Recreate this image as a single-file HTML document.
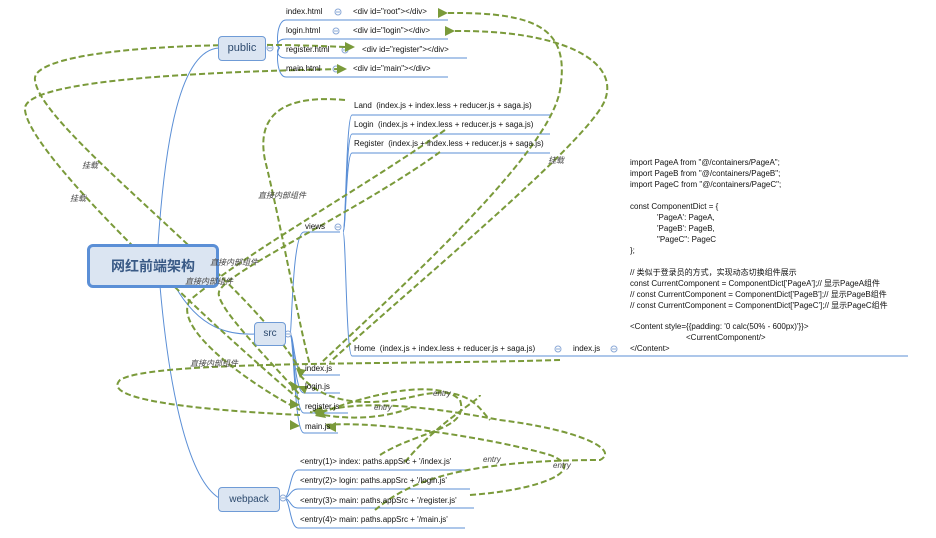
<!DOCTYPE html>
<html><head><meta charset="utf-8"><style>
body{margin:0;width:936px;height:538px;background:#fff;position:relative;overflow:hidden;font-family:"Liberation Sans","Noto Sans CJK SC",sans-serif;}
.t{position:absolute;font-size:8px;color:#111;white-space:nowrap;line-height:10px}
.box{position:absolute;background:#dbe5f2;border:1px solid #6f9bd6;border-radius:4px;color:#2d4a6e;text-align:center;}
svg{position:absolute;left:0;top:0}
.lbl{position:absolute;font-size:8px;font-style:italic;color:#444;white-space:nowrap}
</style></head><body>
<svg width="936" height="538">
<g fill="none" stroke="#5b8fd6" stroke-width="1">
<path d="M158 245 C165 140 180 50 219 48"/>
<path d="M175 286 C200 330 230 335 255 334"/>
<path d="M160 286 C170 400 190 480 219 498"/>
<path d="M280 48 C276 48 276 20 286 20 L448 20"/>
<path d="M280 48 C276 48 276 39 286 39 L448 39"/>
<path d="M280 48 C276 48 276 58 286 58 L467 58"/>
<path d="M280 48 C276 48 276 77 286 77 L448 77"/>
<path d="M290 334 C292 334 292 232 304 232 L340 232"/>
<path d="M290 334 C294 334 294 375 304 375 L340 375"/>
<path d="M290 334 C294 334 294 393 304 393 L340 393"/>
<path d="M290 334 C294 334 294 413 304 413 L348 413"/>
<path d="M290 334 C294 334 294 433 304 433 L338 433"/>
<path d="M343 232 C346 232 346 115 352 115 L550 115"/>
<path d="M343 232 C346 232 346 134 352 134 L550 134"/>
<path d="M343 232 C346 232 346 153 352 153 L550 153"/>
<path d="M343 232 C346 232 346 356 352 356 L908 356"/>
<path d="M284 498 C290 498 290 470 298 470 L468 470"/>
<path d="M284 498 C290 498 290 489 298 489 L470 489"/>
<path d="M284 498 C290 498 290 508 298 508 L474 508"/>
<path d="M284 498 C290 498 290 528 298 528 L465 528"/>
</g>
<g fill="#fff" stroke="#8aa8d6" stroke-width="1">
<circle cx="338" cy="12" r="3"/><circle cx="336" cy="31" r="3"/><circle cx="345" cy="50" r="3"/><circle cx="336" cy="69" r="3"/>
<circle cx="270" cy="48" r="3"/><circle cx="288" cy="334" r="3"/><circle cx="338" cy="227" r="3"/><circle cx="283" cy="498" r="3"/>
<circle cx="558" cy="349" r="3"/><circle cx="614" cy="349" r="3"/>
</g>
<g stroke="#8aa8d6" stroke-width="1">
<path d="M336 12h4M334 31h4M343 50h4M334 69h4M268 48h4M286 334h4M336 227h4M281 498h4M556 349h4M612 349h4"/>
</g>
<g fill="none" stroke="#7a9a3a" stroke-width="2" stroke-dasharray="6,3">
<path d="M345 47 C200 40 30 50 35 80 C40 130 250 280 300 370"/>
<path d="M340 69 C200 72 20 80 25 110 C30 160 240 350 300 400"/>
<path d="M448 13 C540 12 570 30 560 90 C550 150 420 270 322 362"/>
<path d="M455 31 C560 30 620 60 605 100 C590 140 420 280 330 362"/>
<path d="M345 100 C290 95 255 110 265 160 C280 220 300 330 310 365"/>
<path d="M445 130 C360 190 250 250 190 300 C170 330 260 390 300 410"/>
<path d="M440 152 C360 210 230 270 220 290 C210 300 260 350 300 395"/>
<path d="M560 360 C400 365 150 360 120 380 C100 400 200 410 300 415"/>
<path d="M300 375 C320 400 360 410 420 395 C470 385 480 410 490 420"/>
<path d="M410 408 C380 420 340 420 310 412"/>
<path d="M380 455 C420 430 470 430 460 400 C440 380 380 390 320 413"/>
<path d="M405 462 C440 420 480 400 480 395"/>
<path d="M470 495 C540 490 590 470 550 455 C500 440 380 420 325 425"/>
<path d="M375 510 C400 490 440 460 600 460 C620 450 580 430 500 420 C420 405 360 400 320 412"/>
</g>
<g fill="#7a9a3a">
<polygon points="448,13 438,8 438,18"/>
<polygon points="455,31 445,26 445,36"/>
<polygon points="355,47 345,42 345,52"/>
<polygon points="347,69 337,64 337,74"/>
<polygon points="300,378 296,368 306,370"/>
<polygon points="305,394 298,386 308,386"/>
<polygon points="300,387 290,381 292,391"/>
<polygon points="300,405 290,399 290,409"/>
<polygon points="300,426 290,420 290,430"/>
<polygon points="312,411 322,406 322,416"/>
<polygon points="326,427 336,422 336,432"/>
<polygon points="315,416 322,408 326,418"/>
</g>
</svg>
<div class="box" style="left:87px;top:244px;width:126px;height:38px;border:3px solid #5b8fd6;border-radius:6px;font-size:14px;font-weight:bold;line-height:38px;color:#3a5a86">网红前端架构</div>
<div class="box" style="left:218px;top:36px;width:46px;height:23px;font-size:11px;line-height:23px">public</div>
<div class="box" style="left:254px;top:322px;width:30px;height:22px;font-size:10px;line-height:22px">src</div>
<div class="box" style="left:218px;top:487px;width:60px;height:23px;font-size:10px;line-height:23px">webpack</div>
<div class="t" style="left:286px;top:7px">index.html</div>
<div class="t" style="left:286px;top:26px">login.html</div>
<div class="t" style="left:286px;top:45px">register.html</div>
<div class="t" style="left:286px;top:64px">main.html</div>
<div class="t" style="left:353px;top:7px">&lt;div id="root"&gt;&lt;/div&gt;</div>
<div class="t" style="left:353px;top:26px">&lt;div id="login"&gt;&lt;/div&gt;</div>
<div class="t" style="left:362px;top:45px">&lt;div id="register"&gt;&lt;/div&gt;</div>
<div class="t" style="left:353px;top:64px">&lt;div id="main"&gt;&lt;/div&gt;</div>
<div class="t" style="left:354px;top:101px">Land &nbsp;(index.js + index.less + reducer.js + saga.js)</div>
<div class="t" style="left:354px;top:120px">Login &nbsp;(index.js + index.less + reducer.js + saga.js)</div>
<div class="t" style="left:354px;top:139px">Register &nbsp;(index.js + index.less + reducer.js + saga.js)</div>
<div class="t" style="left:305px;top:222px">views</div>
<div class="t" style="left:354px;top:344px">Home &nbsp;(index.js + index.less + reducer.js + saga.js)</div>
<div class="t" style="left:573px;top:344px">index.js</div>
<div class="t" style="left:305px;top:364px">index.js</div>
<div class="t" style="left:305px;top:382px">login.js</div>
<div class="t" style="left:305px;top:402px">register.js</div>
<div class="t" style="left:305px;top:422px">main.js</div>
<div class="t" style="left:300px;top:457px">&lt;entry(1)&gt; index: paths.appSrc + '/index.js'</div>
<div class="t" style="left:300px;top:476px">&lt;entry(2)&gt; login: paths.appSrc + '/login.js'</div>
<div class="t" style="left:300px;top:496px">&lt;entry(3)&gt; main: paths.appSrc + '/register.js'</div>
<div class="t" style="left:300px;top:515px">&lt;entry(4)&gt; main: paths.appSrc + '/main.js'</div>
<div class="t" style="left:630px;top:158px">import PageA from "@/containers/PageA";</div>
<div class="t" style="left:630px;top:169px">import PageB from "@/containers/PageB";</div>
<div class="t" style="left:630px;top:180px">import PageC from "@/containers/PageC";</div>
<div class="t" style="left:630px;top:202px">const ComponentDict = {</div>
<div class="t" style="left:657px;top:213px">'PageA': PageA,</div>
<div class="t" style="left:657px;top:224px">'PageB': PageB,</div>
<div class="t" style="left:657px;top:235px">"PageC": PageC</div>
<div class="t" style="left:630px;top:246px">};</div>
<div class="t" style="left:630px;top:268px">// 类似于登录员的方式，实现动态切换组件展示</div>
<div class="t" style="left:630px;top:279px">const CurrentComponent = ComponentDict['PageA'];// 显示PageA组件</div>
<div class="t" style="left:630px;top:290px">// const CurrentComponent = ComponentDict['PageB'];// 显示PageB组件</div>
<div class="t" style="left:630px;top:301px">// const CurrentComponent = ComponentDict['PageC'];// 显示PageC组件</div>
<div class="t" style="left:630px;top:322px">&lt;Content style={{padding: '0 calc(50% - 600px)'}}&gt;</div>
<div class="t" style="left:686px;top:333px">&lt;CurrentComponent/&gt;</div>
<div class="t" style="left:630px;top:344px">&lt;/Content&gt;</div>
<div class="lbl" style="left:82px;top:160px">挂载</div>
<div class="lbl" style="left:70px;top:193px">挂载</div>
<div class="lbl" style="left:548px;top:155px">挂载</div>
<div class="lbl" style="left:258px;top:190px">直接内部组件</div>
<div class="lbl" style="left:210px;top:257px">直接内部组件</div>
<div class="lbl" style="left:185px;top:276px">直接内部组件</div>
<div class="lbl" style="left:190px;top:358px">直接内部组件</div>
<div class="lbl" style="left:433px;top:389px">entry</div>
<div class="lbl" style="left:374px;top:403px">entry</div>
<div class="lbl" style="left:483px;top:455px">entry</div>
<div class="lbl" style="left:553px;top:461px">entry</div>
</body></html>
